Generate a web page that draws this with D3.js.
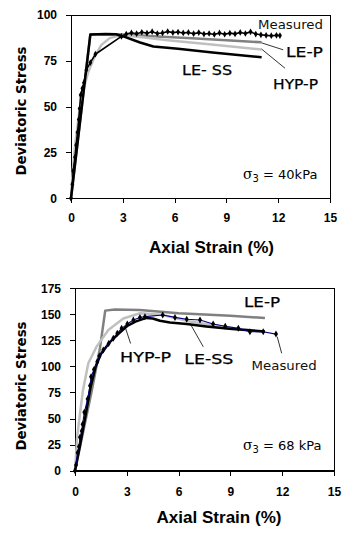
<!DOCTYPE html>
<html><head><meta charset="utf-8">
<script src="https://cdn.jsdelivr.net/npm/d3@7"></script>
<style>
html,body{margin:0;padding:0;background:#fff;}
svg{display:block;}
</style></head>
<body>
<svg id="chart" width="355" height="545"></svg>
<script>
// ---------- shared ticks ----------
const strainTicks = [0, 3, 6, 9, 12, 15];
const stressTicks40 = [0, 25, 50, 75, 100];
const stressTicks68 = [0, 25, 50, 75, 100, 125, 150, 175];

// ---------- sigma3 = 40 kPa ----------
const meas40X = [0,0.08,0.13,0.23,0.3,0.38,0.45,0.5,0.56,0.66,0.75,0.89,1.12,1.41,2.92,3.2,3.5,3.8,4.1,4.4,4.7,5.0,5.3,5.6,5.9,6.2,6.5,6.8,7.1,7.4,7.7,8.0,8.3,8.6,8.9,9.2,9.5,9.8,10.1,10.4,10.7,11.0,11.3,11.6,11.9,12.1];
const meas40Y = [0,7.6,15,22.4,29,36,43,49,56.4,60,63,70,74,78.6,88.3,89.6,90.3,89.8,90.6,90.1,90.9,89.9,90.2,91.0,90.4,90.7,90.2,90.5,89.8,90.4,89.6,89.9,89.4,90.2,89.5,90.1,89.7,90.5,89.9,90.8,89.6,89.2,88.9,88.7,88.9,88.8];
const lessX40 = [0,1.12,2.0,2.6,3.03,4.0,4.77,6.2,8.2,11.04];
const lessY40 = [0,89.4,89.6,89.5,88.3,85.0,82.8,81.6,79.5,77.0];
const lepX40 = [0,1.12,2.5,3.0,5.0,7.0,9.0,11.04];
const lepY40 = [0,89.3,89.5,89.4,88.3,87.3,86.2,85.1];
const hypX40 = [0,0.1,0.25,0.45,0.65,0.98,1.37,1.76,2.24,2.72,3.2,4.0,5.73,8.0,11.04];
const hypY40 = [0,15,30,45,57,68.3,77.3,83.7,87.4,88.6,88.7,88.0,86.1,84.0,81.2];

// ---------- sigma3 = 68 kPa ----------
const meas68X = [0,0.06,0.15,0.23,0.29,0.39,0.44,0.54,0.73,0.87,0.93,1.1,1.29,1.41,1.64,1.95,2.22,2.45,2.7,3.03,3.38,3.76,4.05,5.08,5.79,6.47,7.24,8.0,8.7,9.46,10.13,10.9,11.64];
const meas68Y = [0,5.5,17.3,23,32,38,44.5,56,68.7,81.5,90,97,104.5,110,115.7,122,127,131.7,136.5,140.6,144.5,147,147.7,149.3,147,145.2,144.5,140.6,138.5,136.5,133.3,133.3,131];
const lessX68 = [0,0.3,0.6,0.9,1.2,1.5,2.0,2.5,3.0,3.5,4.13,4.5,4.92,5.5,6.47,7.6,9.1,11.0];
const lessY68 = [0,25,52,80,100,112,123,131,138.5,143,146.5,146,143.8,142.2,140.6,138.3,135.8,133.5];
const lepX68 = [0,0.95,1.45,1.75,2.3,3.76,6.0,9.0,11.0];
const lepY68 = [0,75,118,153.5,154.5,154,151,148.5,146.5];
const hypX68 = [0,0.13,0.29,0.46,0.77,1.25,1.93,2.8,3.76,5.0,6.66,8.0,9.2,10.9];
const hypY68 = [0,33,55,77,103,119,135,146,151,149.5,143,139.5,136.5,133.5];

const svg = d3.select("#chart");
const zip = (xs, ys) => xs.map((x, i) => [x, ys[i]]);

function panel(cfg) {
  const x = d3.scaleLinear().domain([0, 15]).range([cfg.left, cfg.right]);
  const y = d3.scaleLinear().domain([0, cfg.ymax]).range([cfg.bottom, cfg.top]);
  const g = svg.append("g");

  g.append("rect").attr("x", cfg.left).attr("y", cfg.top)
    .attr("width", cfg.right - cfg.left).attr("height", cfg.bottom - cfg.top)
    .attr("fill", "none").attr("stroke", "#000").attr("stroke-width", 1)
    .attr("shape-rendering", "crispEdges");

  const ax = g.append("g").attr("transform", `translate(0,${cfg.bottom})`)
    .call(d3.axisBottom(x).tickValues(strainTicks).tickSize(5).tickPadding(cfg.xpad).tickFormat(d3.format("d")));
  const ay = g.append("g").attr("transform", `translate(${cfg.left},0)`)
    .call(d3.axisLeft(y).tickValues(cfg.yticks).tickSize(5).tickPadding(9).tickFormat(d3.format("d")));
  [ax, ay].forEach(a => {
    a.selectAll("path,line").attr("stroke", "#000").attr("shape-rendering", "crispEdges");
    a.selectAll("text").attr("font-family", "Liberation Sans, Arial, sans-serif")
      .attr("font-weight", "bold").attr("font-size", 12).attr("fill", "#000");
  });

  const line = d3.line().x(d => x(d[0])).y(d => y(d[1]));
  const path = (data, color, w) => g.append("path").datum(data).attr("d", line)
    .attr("fill", "none").attr("stroke", color).attr("stroke-width", w)
    .attr("stroke-linejoin", "round");

  path(cfg.lep, "#808080", 2.5);
  path(cfg.hyp, "#c0c0c0", 2.5);
  if (cfg.lessFirst) {
    path(cfg.less, "#000", 2.5);
    path(cfg.meas, cfg.measColor, 1.1);
  } else {
    path(cfg.meas, cfg.measColor, cfg.measW);
    path(cfg.less, "#000", 2.5);
  }
  g.append("g").selectAll("path").data(cfg.meas).join("path")
    .attr("transform", d => `translate(${x(d[0])},${y(d[1])})`)
    .attr("d", d3.symbol(d3.symbolDiamond, cfg.mk)).attr("fill", "#000");

  cfg.leaders.forEach(l => g.append("line")
    .attr("x1", x(l[0])).attr("y1", y(l[1])).attr("x2", x(l[2])).attr("y2", y(l[3]))
    .attr("stroke", "#000").attr("stroke-width", 0.8));

  cfg.labels.forEach(l => g.append("text")
    .attr("x", x(l.x)).attr("y", y(l.y))
    .attr("font-family", "DejaVu Sans, Verdana, sans-serif")
    .attr("font-size", l.size).attr("fill", l.color || "#000")
    .attr("stroke", l.color ? "none" : "#000").attr("stroke-width", 0.25)
    .attr("textLength", l.w).attr("lengthAdjust", "spacingAndGlyphs")
    .text(l.t));

  const s = g.append("text").attr("x", x(cfg.sig.x)).attr("y", y(cfg.sig.y))
    .attr("font-family", "DejaVu Sans, Verdana, sans-serif").attr("font-size", 13).attr("fill", "#000");
  s.append("tspan").text("σ").attr("font-family", "DejaVu Serif, serif").attr("font-size", 14);
  s.append("tspan").text("3").attr("font-size", 10).attr("dy", 3);
  s.append("tspan").text(cfg.sig.t).attr("dy", -3);

  g.append("text").attr("x", cfg.xtitle[0]).attr("y", cfg.xtitle[1]).attr("text-anchor", "middle")
    .attr("font-family", "Liberation Sans, Arial, sans-serif").attr("font-weight", "bold").attr("font-size", 16)
    .attr("textLength", 125).attr("lengthAdjust", "spacingAndGlyphs")
    .text("Axial Strain (%)");
  g.append("text").attr("transform", `translate(${cfg.ytitle[0]},${cfg.ytitle[1]}) rotate(-90)`)
    .attr("text-anchor", "middle")
    .attr("font-family", "DejaVu Sans, Verdana, sans-serif").attr("font-weight", "bold").attr("font-size", 14)
    .attr("textLength", 129).attr("lengthAdjust", "spacingAndGlyphs")
    .text("Deviatoric Stress");
}

panel({
  left: 71, right: 330, top: 15, bottom: 198.3, ymax: 100, yticks: stressTicks40, xpad: 10,
  meas: zip(meas40X, meas40Y), less: zip(lessX40, lessY40), lep: zip(lepX40, lepY40), hyp: zip(hypX40, hypY40),
  measColor: "#000", measW: 1.6, mk: 13, lessFirst: false,
  leaders: [[11.04, 84.8, 12.29, 81], [11.04, 81.4, 12.39, 71]],
  labels: [
    {t: "Measured", x: 10.83, y: 92.5, size: 13, w: 65, color: "#111"},
    {t: "LE-P", x: 12.45, y: 77.2, size: 14, w: 37},
    {t: "LE- SS", x: 6.43, y: 67.3, size: 14, w: 50},
    {t: "HYP-P", x: 11.7, y: 59.7, size: 14, w: 45}
  ],
  sig: {x: 9.96, y: 10.5, t: " = 40kPa"},
  xtitle: [211.5, 253], ytitle: [26, 111]
});

panel({
  left: 75, right: 334, top: 288.2, bottom: 470.7, ymax: 175, yticks: stressTicks68, xpad: 11.5,
  meas: zip(meas68X, meas68Y), less: zip(lessX68, lessY68), lep: zip(lepX68, lepY68), hyp: zip(hypX68, hypY68),
  measColor: "#000080", measW: 1.1, mk: 14, lessFirst: true,
  leaders: [[2.9, 138, 3.22, 122], [6.66, 141.3, 7.43, 118.8], [11.71, 128.5, 11.97, 112.6]],
  labels: [
    {t: "LE-P", x: 9.79, y: 156.7, size: 14, w: 36},
    {t: "HYP-P", x: 2.61, y: 104.5, size: 14, w: 51},
    {t: "LE-SS", x: 6.33, y: 102, size: 14, w: 49},
    {t: "Measured", x: 10.23, y: 96.5, size: 13, w: 65, color: "#111"}
  ],
  sig: {x: 9.73, y: 19.8, t: " = 68 kPa"},
  xtitle: [219, 523], ytitle: [25.5, 386]
});
</script>
</body></html>
